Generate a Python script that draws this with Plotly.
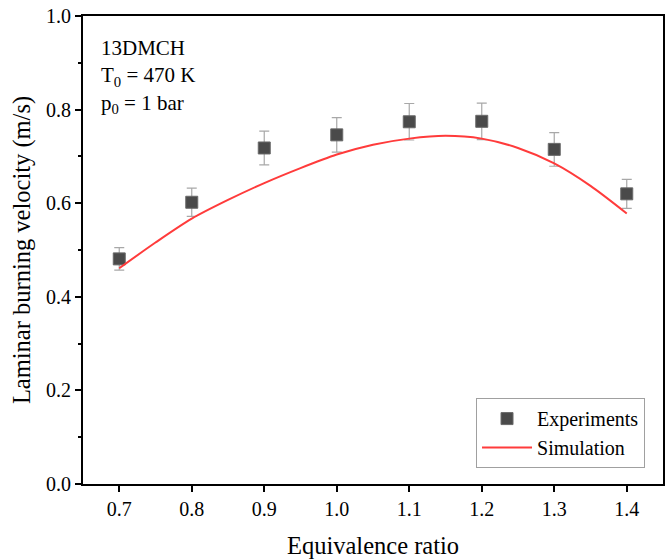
import plotly.graph_objects as go

# Measured laminar burning velocities
phi_exp = [0.7, 0.8, 0.9, 1.0, 1.1, 1.2, 1.3, 1.4]
su_exp = [0.481, 0.602, 0.718, 0.746, 0.774, 0.775, 0.715, 0.620]
su_err = [0.024, 0.030, 0.036, 0.037, 0.039, 0.039, 0.036, 0.031]

# Simulated laminar burning velocities
phi_sim = [0.70, 0.75, 0.80, 0.85, 0.90, 0.95, 1.00, 1.05, 1.10, 1.15, 1.20, 1.25, 1.30, 1.35, 1.40]
su_sim = [0.461, 0.516, 0.567, 0.607, 0.643, 0.675, 0.704, 0.725, 0.738, 0.744, 0.738, 0.718, 0.685, 0.637, 0.578]

x_ticks = [0.7, 0.8, 0.9, 1.0, 1.1, 1.2, 1.3, 1.4]
y_ticks = [0.0, 0.2, 0.4, 0.6, 0.8, 1.0]

FONT = "'Times New Roman', 'Liberation Serif', 'DejaVu Serif', serif"

fig = go.Figure()
fig.add_trace(go.Scatter(
    x=phi_exp, y=su_exp, mode="markers", name="Experiments",
    marker=dict(symbol="square", size=12, color="#4a4a4a",
                line=dict(color="#6a6a6a", width=1)),
    error_y=dict(type="data", array=su_err, visible=True,
                 color="#a8a8a8", thickness=1.2, width=5),
))
fig.add_trace(go.Scatter(
    x=phi_sim, y=su_sim, mode="lines", name="Simulation",
    line=dict(color="#ff3b3b", width=2, shape="spline", smoothing=0.8),
))

axis_common = dict(
    showgrid=False, zeroline=False, showline=True, linecolor="black",
    linewidth=2, mirror=True, ticks="outside", ticklen=6, tickwidth=1.5,
    tickcolor="black", tickfont=dict(family=FONT, size=20, color="black"),
)

fig.update_xaxes(
    range=[0.65, 1.45], tickvals=x_ticks,
    ticktext=[f"{v:.1f}" for v in x_ticks],
    title=dict(text="Equivalence ratio", font=dict(family=FONT, size=24.5, color="black"), standoff=18),
    **axis_common,
)
fig.update_yaxes(
    range=[0, 1.0], tickvals=y_ticks,
    ticktext=[f"{v:.1f}" for v in y_ticks],
    minor=dict(ticks="outside", ticklen=3, tickwidth=1.5, tickcolor="black", dtick=0.1),
    title=dict(text="Laminar burning velocity (m/s)", font=dict(family=FONT, size=24.5, color="black"), standoff=8),
    **axis_common,
)

fig.add_annotation(
    x=0.0, y=1.0, xref="paper", yref="paper", xanchor="left", yanchor="top",
    xshift=16, yshift=-18, align="left", showarrow=False,
    text="13DMCH<br>T<sub>0</sub> = 470 K<br>p<sub>0</sub> = 1 bar",
    font=dict(family=FONT, size=21, color="black"),
)

fig.update_layout(
    width=669, height=559,
    margin=dict(l=83, r=4, t=16, b=74),
    paper_bgcolor="white", plot_bgcolor="white",
    font=dict(family=FONT),
    showlegend=True,
    legend=dict(
        x=0.969, y=0.034, xanchor="right", yanchor="bottom",
        bordercolor="#a0a0a0", borderwidth=1, bgcolor="white",
        font=dict(family=FONT, size=20, color="black"),
        itemwidth=50, tracegroupgap=0,
    ),
)

fig.write_html("out.html")
